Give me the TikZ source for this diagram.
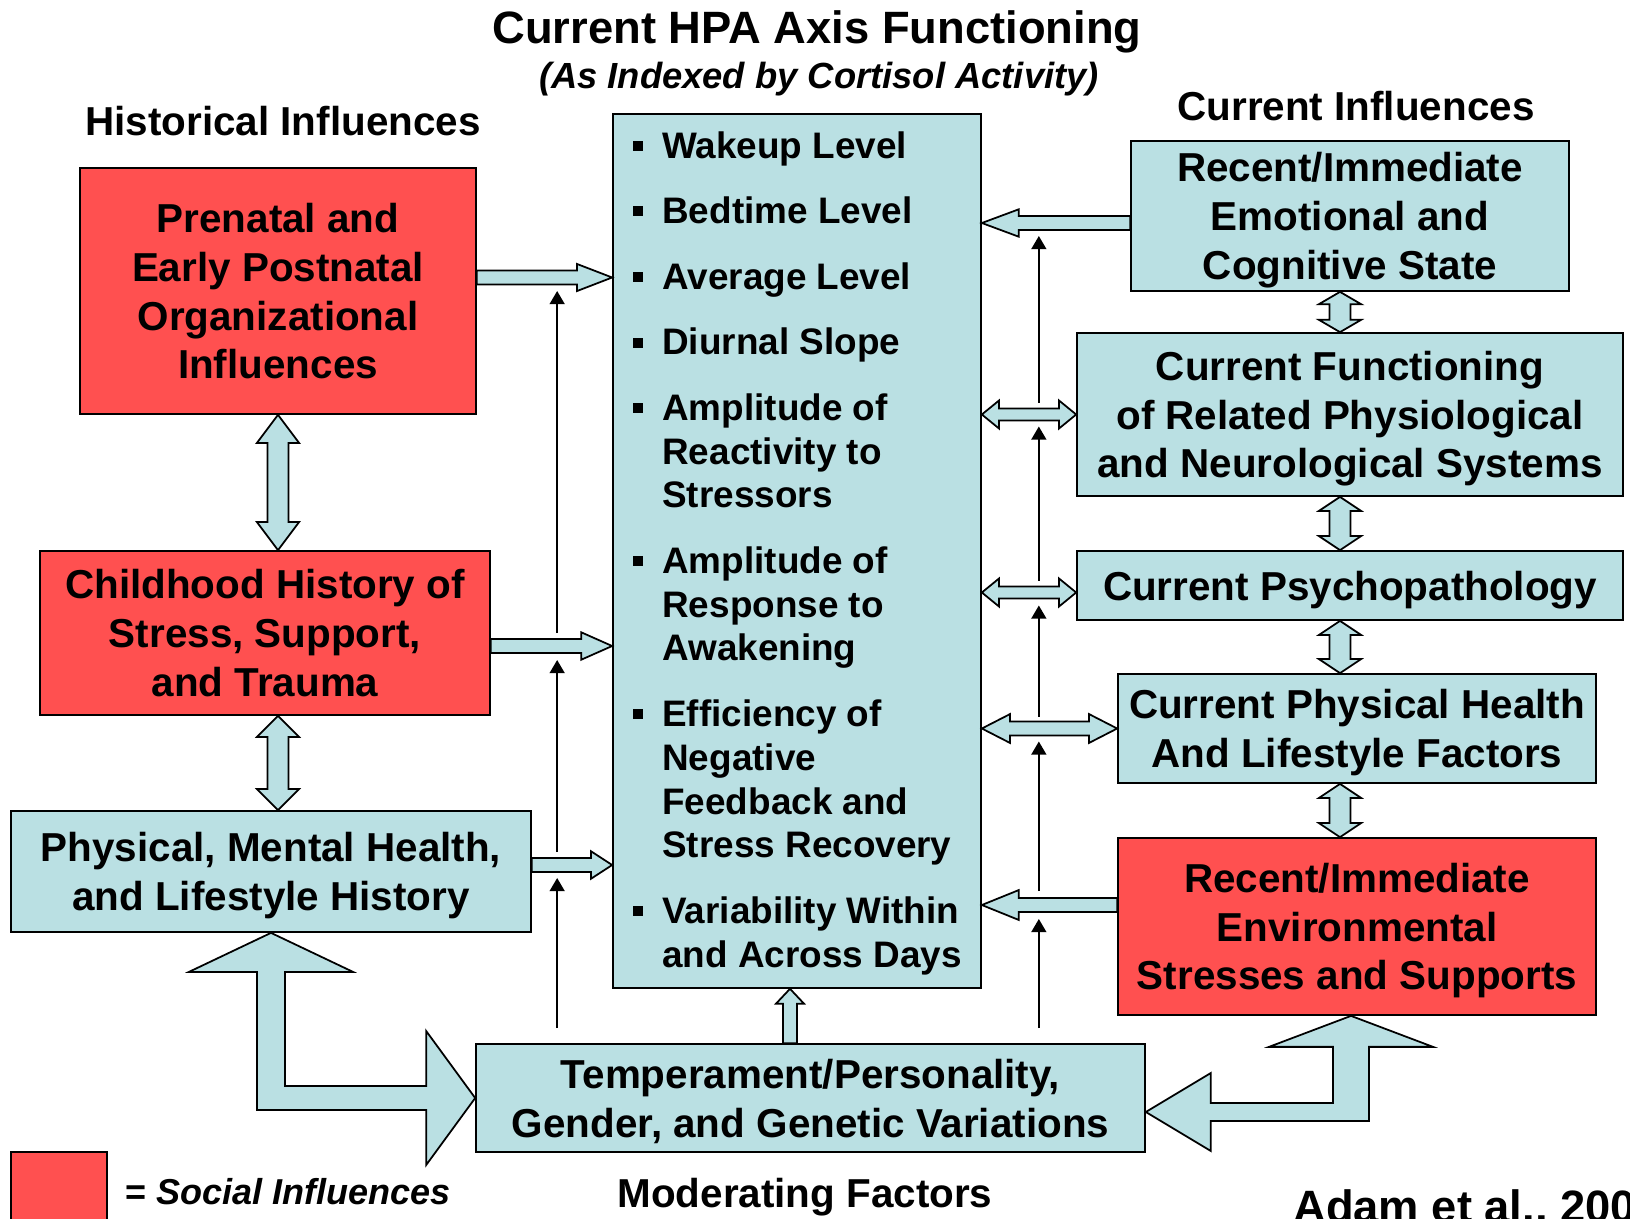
\documentclass[tikz,border=0pt]{standalone}
\usepackage{fontspec}
\setmainfont{Liberation Sans}
\usetikzlibrary{calc, arrows.meta}
\definecolor{socialred}{RGB}{255,80,80}
\definecolor{hpablue}{RGB}{186,224,227}
\newcommand{\boxfont}{\fontsize{23}{27.8}\selectfont\bfseries}
\newcommand{\itemfont}{\fontsize{21}{24.9}\selectfont\bfseries}
\newcommand{\hpaitem}{\leavevmode\llap{\rule[4.2pt]{5.7pt}{5.7pt}\hspace{10.8pt}}}
\tikzstyle{social} = [draw, fill=socialred, line width=1pt, inner sep=0pt, align=center, text depth=0pt, font=\boxfont]
\tikzstyle{factor} = [draw, fill=hpablue, line width=1pt, inner sep=0pt, align=center, text depth=0pt, font=\boxfont]
\tikzstyle{heading} = [inner sep=0pt, anchor=base, font=\boxfont]
\tikzstyle{arrow} = [->, >={Triangle[length=7.5pt,width=8.5pt]}, line width=1.1pt]
\tikzstyle{blockarrow} = [draw, fill=hpablue, line width=1pt, line join=miter]
\newcommand{\onearrow}[5]{%
	\coordinate (headbase) at ($(#2)!#5!(#1)$);
	\draw[blockarrow] ($(#1)!#3!90:(#2)$) -- ($(headbase)!#3!90:(#2)$) -- ($(headbase)!#4!90:(#2)$) -- (#2) -- ($(headbase)!#4!-90:(#2)$) -- ($(headbase)!#3!-90:(#2)$) -- ($(#1)!#3!-90:(#2)$) -- cycle;
}
\newcommand{\twoarrow}[5]{%
	\coordinate (headone) at ($(#1)!#5!(#2)$);
	\coordinate (headtwo) at ($(#2)!#5!(#1)$);
	\draw[blockarrow] (#1) -- ($(headone)!#4!90:(#2)$) -- ($(headone)!#3!90:(#2)$) -- ($(headtwo)!#3!90:(#2)$) -- ($(headtwo)!#4!90:(#2)$) -- (#2) -- ($(headtwo)!#4!-90:(#2)$) -- ($(headtwo)!#3!-90:(#2)$) -- ($(headone)!#3!-90:(#2)$) -- ($(headone)!#4!-90:(#2)$) -- cycle;
}

\begin{document}
\begin{tikzpicture}[x=0.02cm, y=-0.02cm]
	\useasboundingbox (0,0) rectangle (1630,1218);

	\node (title)[heading, font=\fontsize{25.8}{31}\selectfont\bfseries] at (817,43.6) {Current HPA Axis Functioning};
	\node (subtitle)[heading, font=\fontsize{20.7}{25}\selectfont\bfseries\itshape] at (819,88) {(As Indexed by Cortisol Activity)};
	\node (historical)[heading] at (283,135) {Historical Influences};
	\node (current)[heading] at (1356,120.6) {Current Influences};
	\node (moderating)[heading] at (805,1207) {Moderating Factors};

	\node (prenatal)[social, minimum width=7.92cm, minimum height=4.92cm] at (278,291) {Prenatal and\\Early Postnatal\\Organizational\\Influences};
	\node (childhood)[social, minimum width=9cm, minimum height=3.28cm] at (265,633) {Childhood History of\\Stress, Support,\\and Trauma};
	\node (physical)[factor, minimum width=10.4cm, minimum height=2.42cm] at (271,871.5) {Physical, Mental Health,\\and Lifestyle History};
	\node (hpa)[factor, minimum width=7.36cm, minimum height=17.48cm] at (797,551) {};
	\node (levels)[inner sep=0pt, anchor=base west, font=\itemfont] at (662,158.3) {\parbox[t]{6.5cm}{\raggedright
		\hpaitem Wakeup Level\\[12.4pt]
		\hpaitem Bedtime Level\\[12.4pt]
		\hpaitem Average Level\\[12.4pt]
		\hpaitem Diurnal Slope\\[12.4pt]
		\hpaitem Amplitude of\\Reactivity to\\Stressors\\[12.4pt]
		\hpaitem Amplitude of\\Response to\\Awakening\\[12.4pt]
		\hpaitem Efficiency of\\Negative\\Feedback and\\Stress Recovery\\[12.4pt]
		\hpaitem Variability Within\\and Across Days}};
	\node (temper)[factor, minimum width=13.38cm, minimum height=2.16cm] at (810.5,1098) {Temperament/Personality,\\Gender, and Genetic Variations};
	\node (emotion)[factor, minimum width=8.76cm, minimum height=3cm] at (1350,216) {Recent/Immediate\\Emotional and\\Cognitive State};
	\node (related)[factor, minimum width=10.92cm, minimum height=3.26cm] at (1350,414.5) {Current Functioning\\of Related Physiological\\and Neurological Systems};
	\node (psycho)[factor, minimum width=10.92cm, minimum height=1.38cm] at (1350,585.5) {Current Psychopathology};
	\node (health)[factor, minimum width=9.56cm, minimum height=2.18cm] at (1357,728.5) {Current Physical Health\\And Lifestyle Factors};
	\node (environ)[social, minimum width=9.56cm, minimum height=3.54cm] at (1357,926.5) {Recent/Immediate\\Environmental\\Stresses and Supports};

	\node (key)[social, minimum width=1.92cm, minimum height=1.92cm] at (59,1200) {};
	\node (keytext)[inner sep=0pt, anchor=base west, font=\fontsize{20.5}{25}\selectfont\bfseries] at (125,1204) {= \textit{Social Influences}};
	\node (citation)[inner sep=0pt, anchor=base west, font=\fontsize{25.8}{31}\selectfont\bfseries] at (1293,1222) {Adam et al., 2007};

	\coordinate (a1) at ($(prenatal.east)+(0,-13.5)$);
	\coordinate (b1) at (hpa.west |- a1);
	\coordinate (a2) at ($(childhood.east)+(0,13)$);
	\coordinate (b2) at (hpa.west |- a2);
	\coordinate (a3) at ($(physical.east)+(0,-6.5)$);
	\coordinate (b3) at (hpa.west |- a3);
	\coordinate (a4) at ($(emotion.west)+(0,7)$);
	\coordinate (b4) at (hpa.east |- a4);
	\coordinate (a5) at ($(environ.west)+(0,-21.5)$);
	\coordinate (b5) at (hpa.east |- a5);
	\coordinate (a6) at (related.west);
	\coordinate (b6) at (hpa.east |- a6);
	\coordinate (a7) at ($(psycho.west)+(0,7)$);
	\coordinate (b7) at (hpa.east |- a7);
	\coordinate (a8) at (health.west);
	\coordinate (b8) at (hpa.east |- a8);
	\coordinate (c1) at (prenatal.south);
	\coordinate (d1) at (c1 |- childhood.north);
	\coordinate (c2) at (c1 |- childhood.south);
	\coordinate (d2) at (c1 |- physical.north);
	\coordinate (e1) at ($(emotion.south)+(-10,0)$);
	\coordinate (f1) at (e1 |- related.north);
	\coordinate (e2) at (e1 |- related.south);
	\coordinate (f2) at (e1 |- psycho.north);
	\coordinate (e3) at (e1 |- psycho.south);
	\coordinate (f3) at (e1 |- health.north);
	\coordinate (e4) at (e1 |- health.south);
	\coordinate (f4) at (e1 |- environ.north);
	\coordinate (g) at ($(temper.north)+(-20.5,0)$);
	\coordinate (h) at (g |- hpa.south);

	\onearrow{a1}{b1}{4pt}{7.7pt}{20pt}
	\onearrow{a2}{b2}{4pt}{7.8pt}{17.6pt}
	\onearrow{a3}{b3}{4pt}{7.8pt}{12pt}
	\onearrow{a4}{b4}{4pt}{7.8pt}{21pt}
	\onearrow{a5}{b5}{4pt}{8.5pt}{21pt}
	\twoarrow{b6}{a6}{3.4pt}{8pt}{9.8pt}
	\twoarrow{b7}{a7}{3.4pt}{8pt}{9.8pt}
	\twoarrow{b8}{a8}{4pt}{8.2pt}{16pt}
	\twoarrow{c1}{d1}{6pt}{12pt}{16pt}
	\twoarrow{c2}{d2}{6pt}{12pt}{12pt}
	\twoarrow{e1}{f1}{6pt}{12pt}{7pt}
	\twoarrow{e2}{f2}{6pt}{12pt}{8pt}
	\twoarrow{e3}{f3}{6pt}{12pt}{8pt}
	\twoarrow{e4}{f4}{6pt}{12pt}{8pt}
	\onearrow{g}{h}{4pt}{8pt}{8.5pt}

	\draw[blockarrow] (physical.south) -- ++(82,39) -- ++(-68,0) |- ($(temper.west)+(-49,-12)$) -- ++(0,-55) -- (temper.west) -- ++(-49,67) -- ++(0,-55) -| ($(physical.south)+(-14,39)$) -- ++(-68,0) -- cycle;
	\coordinate (ra) at ($(environ.south)+(-6,0)$);
	\coordinate (rb) at ($(temper.east)+(0,14)$);
	\draw[blockarrow] (ra) -- ++(82,31) -- ++(-64,0) |- ($(rb)+(65,9)$) -- ++(0,30) -- (rb) -- ++(65,-39) -- ++(0,30) -| ($(ra)+(-18,31)$) -- ++(-64,0) -- cycle;

	\coordinate (m1) at ($(temper.north -| b1)+(-55,-15)$);
	\coordinate (n1) at ($(temper.north -| b4)+(57,-15)$);
	\draw[arrow] (m1) -- ($(m1 |- a3)+(0,13)$);
	\draw[arrow] ($(m1 |- a3)+(0,-13)$) -- ($(m1 |- a2)+(0,14)$);
	\draw[arrow] ($(m1 |- a2)+(0,-13)$) -- ($(m1 |- a1)+(0,13.5)$);
	\draw[arrow] (n1) -- ($(n1 |- a5)+(0,14)$);
	\draw[arrow] ($(n1 |- a5)+(0,-14)$) -- ($(n1 |- a8)+(0,13)$);
	\draw[arrow] ($(n1 |- a8)+(0,-12)$) -- ($(n1 |- a7)+(0,13)$);
	\draw[arrow] ($(n1 |- a7)+(0,-12)$) -- ($(n1 |- a6)+(0,12)$);
	\draw[arrow] ($(n1 |- a6)+(0,-12)$) -- ($(n1 |- a4)+(0,13)$);
\end{tikzpicture}
\end{document}
